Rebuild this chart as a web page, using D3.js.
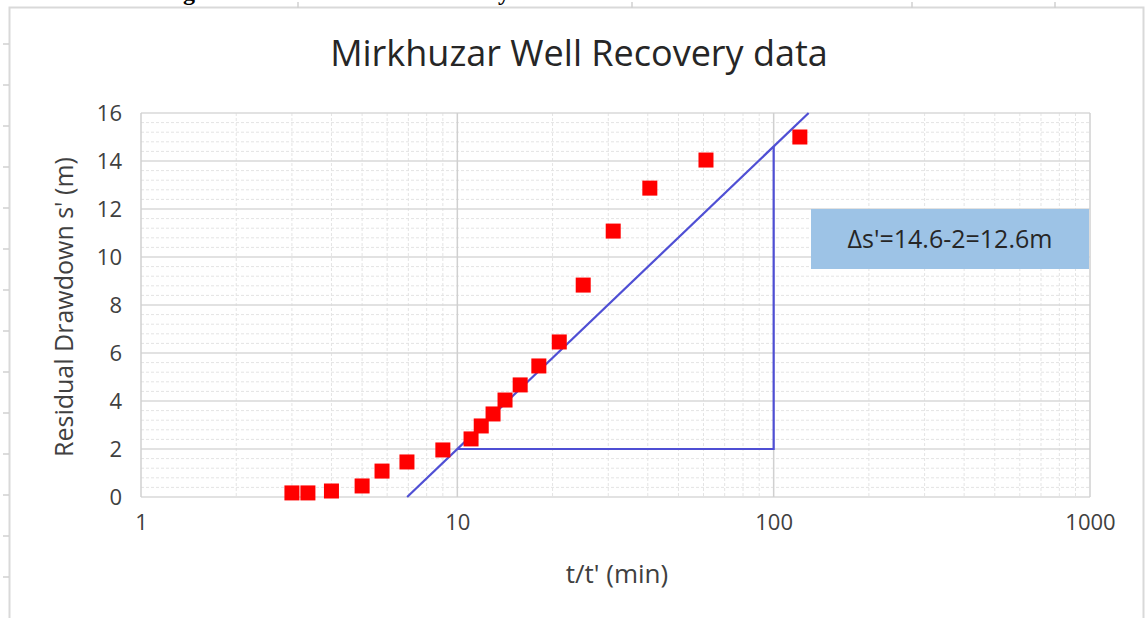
<!DOCTYPE html>
<html>
<head>
<meta charset="utf-8">
<script src="https://cdn.jsdelivr.net/npm/d3@7"></script>
<style>
  body { margin: 0; background: #fff; }
  svg { display: block; }
  text { font-family: "Open Sans", Lato, sans-serif; fill: #404040; }
</style>
</head>
<body>
<div id="chart"></div>
<script>
// recovery data: t/t' (min) and residual drawdown s' (m)
var ratio = [3, 3.37, 4, 5, 5.78, 6.93, 9, 11.05, 11.9, 12.97, 14.15, 15.8, 18.1, 21, 25, 31.1, 40.6, 61.1, 121];
var drawdown = [0.17, 0.17, 0.25, 0.46, 1.08, 1.46, 1.96, 2.42, 2.96, 3.46, 4.04, 4.67, 5.46, 6.46, 8.83, 11.08, 12.87, 14.04, 15.0];

// fitted straight line and the delta-s construction
var fitStart = [6.94, 0];
var fitEnd = [129, 16];
var deltaLegs = [[10, 2], [100, 2], [100, 14.6]];

var xTicks = [1, 10, 100, 1000];
var yTicks = [0, 2, 4, 6, 8, 10, 12, 14, 16];
var note = "Δs'=14.6-2=12.6m";

var W = 1148, H = 618;
var svg = d3.select("#chart").append("svg")
    .attr("width", W)
    .attr("height", H);

// outer frame of the chart object + spreadsheet cell marks
svg.append("rect")
    .attr("x", 9.5).attr("y", 7.5)
    .attr("width", 1134).attr("height", 640)
    .style("fill", "#fff")
    .style("stroke", "#d9d9d9")
    .style("stroke-width", 2);

[298, 632, 912, 1055].forEach(function(x) {
    svg.append("line").attr("x1", x).attr("x2", x).attr("y1", 2).attr("y2", 8)
        .style("stroke", "#d0d0d0").style("stroke-width", 1.5);
});
d3.range(44, 618, 41).forEach(function(y) {
    svg.append("line").attr("x1", 3).attr("x2", 9).attr("y1", y).attr("y2", y)
        .style("stroke", "#d0d0d0").style("stroke-width", 1.5);
});

// bits of the caption above, cut off by the picture edge
svg.append("text").attr("x", 183).attr("y", 0)
    .style("font-family", "'Liberation Serif', serif").style("font-weight", "bold")
    .style("font-size", "24px").style("fill", "#000").text("g");
svg.append("text").attr("x", 498).attr("y", 0)
    .style("font-family", "'Liberation Serif', serif").style("font-weight", "bold")
    .style("font-size", "24px").style("fill", "#000").text("y");

var x = d3.scaleLog().domain([1, 1000]).range([141, 1090]);
var y = d3.scaleLinear().domain([0, 16]).range([497, 113]);

// minor grid
var minorX = [];
[1, 10, 100].forEach(function(d) {
    for (var k = 2; k <= 9; k++) minorX.push(d * k);
});
var minorY = d3.range(0, 16.01, 0.4).filter(function(v) { return Math.abs(v / 2 - Math.round(v / 2)) > 0.01; });

svg.append("g").selectAll("line")
    .data(minorY)
    .enter().append("line")
    .attr("x1", x(1)).attr("x2", x(1000))
    .attr("y1", function(d) { return y(d); })
    .attr("y2", function(d) { return y(d); })
    .style("stroke", "#e4e4e4")
    .style("stroke-dasharray", "3,2");

svg.append("g").selectAll("line")
    .data(minorX)
    .enter().append("line")
    .attr("x1", function(d) { return x(d); })
    .attr("x2", function(d) { return x(d); })
    .attr("y1", y(16)).attr("y2", y(0))
    .style("stroke", "#e4e4e4")
    .style("stroke-dasharray", "3,2");

// major grid
svg.append("g").selectAll("line")
    .data(yTicks)
    .enter().append("line")
    .attr("x1", x(1)).attr("x2", x(1000))
    .attr("y1", function(d) { return y(d); })
    .attr("y2", function(d) { return y(d); })
    .style("stroke", "#d9d9d9")
    .style("stroke-width", 1.5);

svg.append("g").selectAll("line")
    .data(xTicks)
    .enter().append("line")
    .attr("x1", function(d) { return x(d); })
    .attr("x2", function(d) { return x(d); })
    .attr("y1", y(16)).attr("y2", y(0))
    .style("stroke", "#d0d0d0")
    .style("stroke-width", 1.5);

// axes (labels only, Excel style)
var xAxis = svg.append("g")
    .attr("transform", "translate(0," + y(0) + ")")
    .call(d3.axisBottom(x).tickValues(xTicks).tickFormat(d3.format("d")).tickSize(0).tickPadding(17));
xAxis.select(".domain").remove();
xAxis.selectAll("text").style("font-size", "22px").style("font-family", "'Open Sans', sans-serif").style("fill", "#404040");

var yAxis = svg.append("g")
    .attr("transform", "translate(" + x(1) + ",0)")
    .call(d3.axisLeft(y).tickValues(yTicks).tickSize(0).tickPadding(19));
yAxis.select(".domain").remove();
yAxis.selectAll("text").style("font-size", "22px").style("font-family", "'Open Sans', sans-serif").style("fill", "#404040");

// fitted line
svg.append("line")
    .attr("x1", x(fitStart[0])).attr("y1", y(fitStart[1]))
    .attr("x2", x(fitEnd[0])).attr("y2", y(fitEnd[1]))
    .style("stroke", "#4f4fd4")
    .style("stroke-width", 2.2);

svg.append("path")
    .attr("d", d3.line().x(function(d) { return x(d[0]); }).y(function(d) { return y(d[1]); })(deltaLegs))
    .style("fill", "none")
    .style("stroke", "#4f4fd4")
    .style("stroke-width", 2.2);

// data points
var s = 15;
svg.append("g").selectAll("rect")
    .data(ratio)
    .enter().append("rect")
    .attr("x", function(d) { return x(d) - s / 2; })
    .attr("y", function(d, i) { return y(drawdown[i]) - s / 2; })
    .attr("width", s)
    .attr("height", s)
    .style("fill", "#ff0000");

// annotation box
svg.append("rect")
    .attr("x", 811).attr("y", 209)
    .attr("width", 278).attr("height", 60)
    .style("fill", "#9dc3e6");
svg.append("text")
    .attr("x", 950).attr("y", 248)
    .attr("text-anchor", "middle")
    .style("font-size", "25px")
    .style("fill", "#262626")
    .text(note);

// titles
svg.append("text")
    .attr("x", 579).attr("y", 66)
    .attr("text-anchor", "middle")
    .style("font-size", "36px")
    .style("fill", "#262626")
    .text("Mirkhuzar Well Recovery data");

svg.append("text")
    .attr("x", 617).attr("y", 583)
    .attr("text-anchor", "middle")
    .style("font-size", "26px")
    .text("t/t' (min)");

svg.append("text")
    .attr("transform", "translate(73,307) rotate(-90)")
    .attr("text-anchor", "middle")
    .style("font-size", "25px")
    .text("Residual Drawdown s' (m)");
</script>
</body>
</html>
